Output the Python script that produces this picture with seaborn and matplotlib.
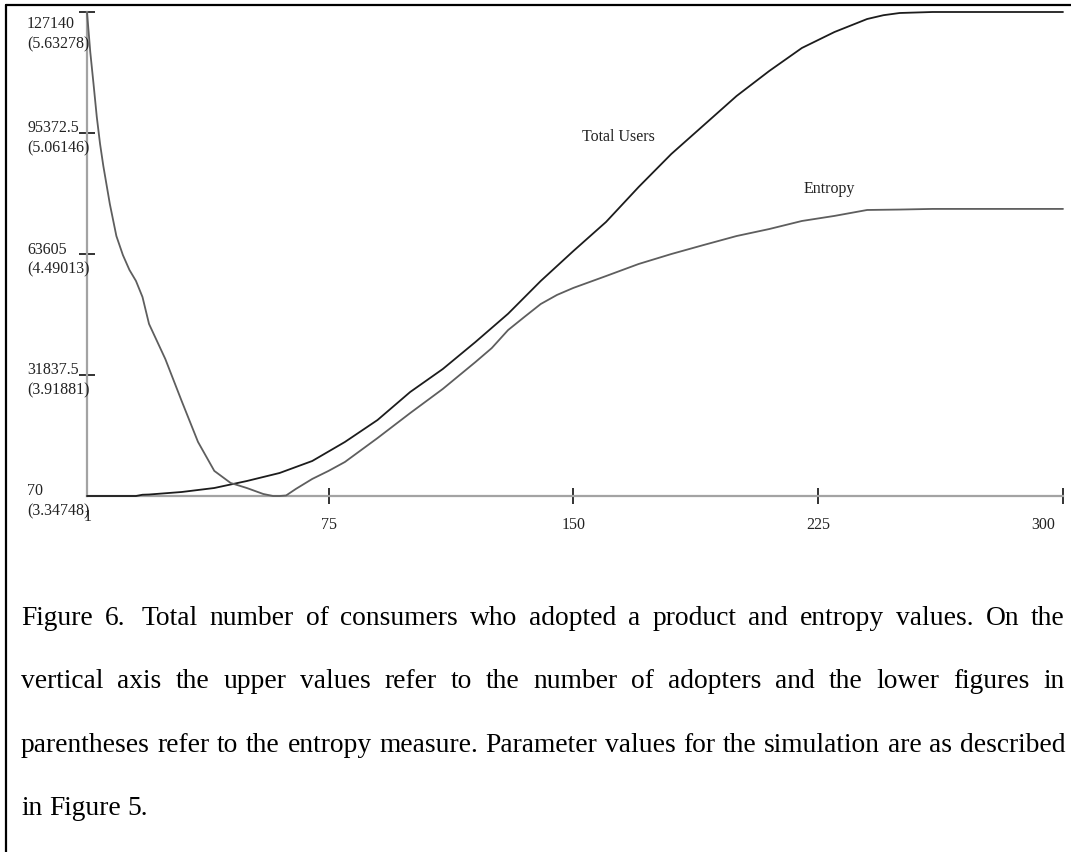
import matplotlib
matplotlib.use("Agg")
import numpy as np
import pandas as pd
import seaborn as sns
import matplotlib.pyplot as plt
from matplotlib.lines import Line2D
from matplotlib.transforms import offset_copy

# ---------------- data ----------------
users_steps = [1, 10, 16, 18, 20, 30, 40, 50, 60, 70, 80, 90, 100, 110, 120, 130, 140,
               150, 160, 170, 180, 190, 200, 210, 220, 230, 240, 245, 250, 260, 270,
               280, 290, 300]
total_users = [70, 70, 70, 400, 460, 1120, 2170, 4010, 6110, 9260, 14250, 20020, 27370,
               33410, 40500, 47920, 56520, 64390, 72010, 81200, 89860, 97470, 105090,
               111650, 117690, 121890, 125300, 126300, 126880, 127140, 127140, 127140,
               127140, 127140]

entropy_steps = [1, 2, 3, 4, 5, 6, 8, 10, 12, 14, 16, 18, 20, 25, 30, 35, 40, 45, 50,
                 55, 58, 60, 62, 65, 70, 75, 80, 90, 100, 110, 120, 125, 130, 135, 140,
                 145, 150, 155, 160, 170, 180, 190, 200, 210, 220, 230, 240, 250, 260,
                 270, 280, 290, 300]
entropy = [5.63278, 5.444, 5.293, 5.137, 5.010, 4.906, 4.726, 4.575, 4.485, 4.415,
           4.363, 4.287, 4.160, 3.994, 3.796, 3.603, 3.466, 3.409, 3.385, 3.357,
           3.34748, 3.34748, 3.350, 3.381, 3.428, 3.466, 3.508, 3.621, 3.739, 3.853,
           3.980, 4.046, 4.131, 4.193, 4.254, 4.297, 4.330, 4.358, 4.386, 4.443,
           4.490, 4.533, 4.575, 4.608, 4.646, 4.670, 4.698, 4.700, 4.703, 4.703,
           4.703, 4.703, 4.703]

x_ticks = [1, 75, 150, 225, 300]
user_ticks = [70, 31837.5, 63605, 95372.5, 127140]
user_tick_labels = ["70", "31837.5", "63605", "95372.5", "127140"]
entropy_tick_labels = ["(3.34748)", "(3.91881)", "(4.49013)", "(5.06146)", "(5.63278)"]
entropy_range = (3.34748, 5.63278)

caption_lines = [
    "Figure 6.  Total number of consumers who adopted a product and entropy values. On the",
    "vertical axis the upper values refer to the number of adopters and the lower figures in",
    "parentheses refer to the entropy measure. Parameter values for the simulation are as described",
    "in Figure 5.",
]

# ---------------- style ----------------
sns.set_theme(style="ticks")
plt.rcParams["font.family"] = ["Liberation Serif", "DejaVu Serif"]

W, H = 1071, 853
fig = plt.figure(figsize=(W / 100, H / 100), dpi=100)
fig.patch.set_facecolor("white")

ax = fig.add_axes([87 / W, 1 - 497 / H, 976 / W, 484 / H])
ax.set_facecolor("none")

users_df = pd.DataFrame({"step": users_steps, "users": total_users})
ent_df = pd.DataFrame({"step": entropy_steps, "entropy": entropy})

sns.lineplot(data=users_df, x="step", y="users", ax=ax, color="#1c1c1c",
             linewidth=1.3, clip_on=False, zorder=5)
ax.set_xlim(1, 300)
ax.set_ylim(user_ticks[0], user_ticks[-1])
ax.set_xlabel("")
ax.set_ylabel("")

ax2 = ax.twinx()
sns.lineplot(data=ent_df, x="step", y="entropy", ax=ax2, color="#5e5e5e",
             linewidth=1.3, clip_on=False, zorder=5)
ax2.set_ylim(*entropy_range)
ax2.set_xlim(1, 300)
ax2.axis("off")

# spines
for s in ["top", "right"]:
    ax.spines[s].set_visible(False)
for s in ["left", "bottom"]:
    ax.spines[s].set_color("#a3a3a3")
    ax.spines[s].set_linewidth(1.6)
    ax.spines[s].set_zorder(1)

ax.set_xticks(x_ticks)
ax.set_yticks(user_ticks)
ax.tick_params(axis="both", direction="inout", length=12, width=1.4, color="#333333",
               labelbottom=False, labelleft=False, bottom=True, left=True)
ax.xaxis.get_major_ticks()[0].tick1line.set_visible(False)
ax.yaxis.get_major_ticks()[0].tick1line.set_visible(False)

label_fs = 11.5
dark = "#222222"

# y labels: upper value (users) and lower value (entropy) in parentheses
ytrans = ax.get_yaxis_transform()
for i, (v, ul, el) in enumerate(zip(user_ticks, user_tick_labels, entropy_tick_labels)):
    if i == len(user_ticks) - 1:
        up_off, lo_off = -15.5, -35.5
    else:
        up_off, lo_off = 1.5, -18.5
    ax.text(0, v, ul, transform=offset_copy(ytrans, fig=fig, x=-60, y=up_off, units="dots"),
            ha="left", va="baseline", fontsize=label_fs, color=dark, clip_on=False)
    ax.text(0, v, el, transform=offset_copy(ytrans, fig=fig, x=-60, y=lo_off, units="dots"),
            ha="left", va="baseline", fontsize=label_fs, color=dark, clip_on=False)

# x labels
xtrans = ax.get_xaxis_transform()
for t in x_ticks:
    if t == x_ticks[0]:
        dx, dy = 1, -24
    elif t == x_ticks[-1]:
        dx, dy = -20, -32
    else:
        dx, dy = 0, -32
    ax.text(t, 0, str(t), transform=offset_copy(xtrans, fig=fig, x=dx, y=dy, units="dots"),
            ha="center", va="baseline", fontsize=label_fs, color=dark, clip_on=False)

# series labels
ax.text(163.7, 93534, "Total Users", ha="center", va="baseline", fontsize=label_fs, color=dark)
ax.text(228.5, 79882, "Entropy", ha="center", va="baseline", fontsize=label_fs, color=dark)

# figure border (left and top)
fig.add_artist(Line2D([6 / W, 6 / W], [0, 1 - 6 / H], transform=fig.transFigure,
                      color="black", linewidth=1.6))
fig.add_artist(Line2D([6 / W, 1], [1 - 6 / H, 1 - 6 / H], transform=fig.transFigure,
                      color="black", linewidth=1.6))

# caption (justified; a double space gets a wider gap)
renderer = fig.canvas.get_renderer()
cap_fs = 19.8
left_px, right_px = 21, 1065
baselines = [625, 688, 752, 815]
for li, (line, yb) in enumerate(zip(caption_lines, baselines)):
    parts = line.split(" ")
    words, weights = [], []
    pending = 1.0
    for p in parts:
        if p == "":
            pending += 0.35
            continue
        if words:
            weights.append(pending)
        words.append(p)
        pending = 1.0
    texts = [fig.text(0, 1 - yb / H, w, fontsize=cap_fs, ha="left", va="baseline",
                      color="black") for w in words]
    widths = [t.get_window_extent(renderer).width for t in texts]
    if li < len(caption_lines) - 1:
        unit = (right_px - left_px - sum(widths)) / sum(weights)
    else:
        unit = cap_fs * 0.25 * 100 / 72
    x = left_px
    for k, (t, w) in enumerate(zip(texts, widths)):
        t.set_x(x / W)
        if k < len(weights):
            x += w + unit * weights[k]

fig.savefig("out.png", dpi=100, facecolor="white")
